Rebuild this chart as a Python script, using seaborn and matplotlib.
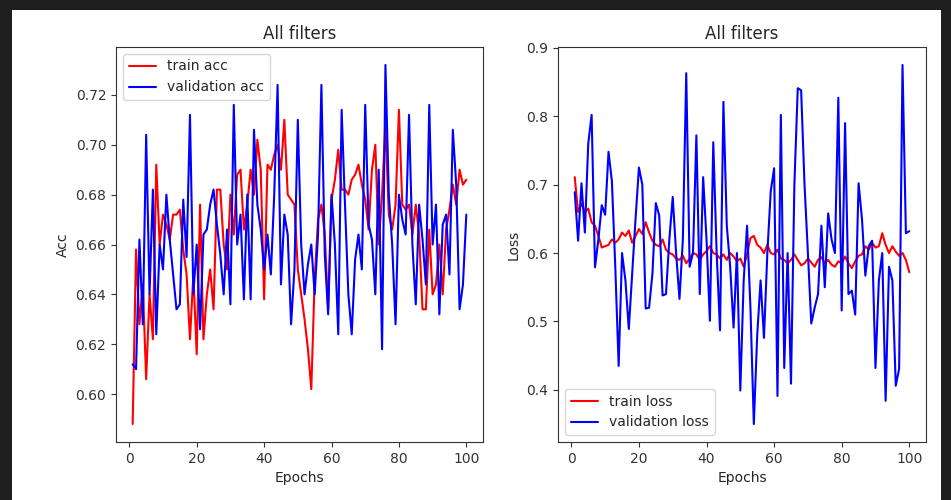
import numpy as np
import pandas as pd
import matplotlib
matplotlib.use("Agg")
import matplotlib.pyplot as plt
from matplotlib.patches import Rectangle
import seaborn as sns

epochs = list(range(1, 101))

train_acc = [
    0.588, 0.658, 0.628, 0.644, 0.606, 0.640, 0.622, 0.692, 0.660, 0.672,
    0.668, 0.662, 0.672, 0.672, 0.674, 0.658, 0.648, 0.622, 0.648, 0.616,
    0.676, 0.622, 0.640, 0.650, 0.634, 0.682, 0.682, 0.660, 0.650, 0.680,
    0.664, 0.688, 0.690, 0.666, 0.676, 0.690, 0.680, 0.702, 0.690, 0.638,
    0.692, 0.690, 0.696, 0.700, 0.690, 0.710, 0.680, 0.678, 0.676, 0.650,
    0.640, 0.630, 0.618, 0.602, 0.646, 0.670, 0.676, 0.664, 0.634, 0.678,
    0.686, 0.698, 0.682, 0.682, 0.680, 0.686, 0.688, 0.692, 0.684, 0.678,
    0.666, 0.690, 0.700, 0.660, 0.680, 0.708, 0.672, 0.666, 0.676, 0.714,
    0.676, 0.674, 0.676, 0.664, 0.676, 0.664, 0.634, 0.634, 0.666, 0.640,
    0.644, 0.660, 0.640, 0.666, 0.674, 0.684, 0.676, 0.690, 0.684, 0.686,
]

val_acc = [
    0.612, 0.610, 0.662, 0.628, 0.704, 0.640, 0.682, 0.624, 0.660, 0.650,
    0.680, 0.662, 0.648, 0.634, 0.636, 0.678, 0.655, 0.712, 0.640, 0.660,
    0.626, 0.664, 0.666, 0.676, 0.682, 0.668, 0.656, 0.640, 0.666, 0.636,
    0.716, 0.660, 0.672, 0.638, 0.680, 0.638, 0.706, 0.676, 0.666, 0.650,
    0.664, 0.648, 0.680, 0.724, 0.644, 0.672, 0.664, 0.628, 0.650, 0.710,
    0.660, 0.640, 0.652, 0.660, 0.640, 0.664, 0.724, 0.656, 0.632, 0.680,
    0.660, 0.624, 0.714, 0.676, 0.640, 0.624, 0.654, 0.664, 0.650, 0.716,
    0.668, 0.662, 0.640, 0.690, 0.618, 0.732, 0.680, 0.660, 0.628, 0.680,
    0.670, 0.664, 0.712, 0.660, 0.636, 0.676, 0.662, 0.644, 0.716, 0.660,
    0.676, 0.632, 0.668, 0.672, 0.648, 0.706, 0.684, 0.634, 0.644, 0.672,
]

train_loss = [
    0.711, 0.660, 0.672, 0.660, 0.665, 0.645, 0.640, 0.625, 0.608, 0.610,
    0.612, 0.620, 0.615, 0.620, 0.630, 0.625, 0.633, 0.615, 0.625, 0.635,
    0.628, 0.645, 0.630, 0.618, 0.612, 0.610, 0.620, 0.605, 0.600, 0.598,
    0.592, 0.590, 0.596, 0.585, 0.592, 0.600, 0.598, 0.590, 0.598, 0.603,
    0.610, 0.600, 0.598, 0.592, 0.598, 0.590, 0.600, 0.595, 0.588, 0.592,
    0.580, 0.598, 0.622, 0.625, 0.612, 0.608, 0.600, 0.612, 0.600, 0.598,
    0.605, 0.592, 0.590, 0.585, 0.590, 0.598, 0.590, 0.582, 0.585, 0.592,
    0.586, 0.580, 0.590, 0.594, 0.585, 0.590, 0.583, 0.580, 0.588, 0.585,
    0.595, 0.585, 0.578, 0.588, 0.596, 0.598, 0.610, 0.605, 0.615, 0.608,
    0.610, 0.629, 0.612, 0.600, 0.610, 0.602, 0.596, 0.600, 0.590, 0.572,
]

val_loss = [
    0.689, 0.618, 0.702, 0.630, 0.760, 0.802, 0.579, 0.620, 0.670, 0.656,
    0.748, 0.705, 0.580, 0.435, 0.600, 0.560, 0.489, 0.570, 0.650, 0.725,
    0.700, 0.519, 0.520, 0.570, 0.673, 0.655, 0.538, 0.540, 0.620, 0.682,
    0.600, 0.533, 0.620, 0.863, 0.580, 0.600, 0.772, 0.540, 0.711, 0.620,
    0.501, 0.762, 0.600, 0.487, 0.821, 0.640, 0.580, 0.491, 0.600, 0.399,
    0.560, 0.640, 0.520, 0.350, 0.480, 0.560, 0.476, 0.600, 0.690, 0.724,
    0.391, 0.802, 0.432, 0.600, 0.409, 0.700, 0.841, 0.838, 0.700, 0.600,
    0.497, 0.520, 0.540, 0.640, 0.550, 0.658, 0.620, 0.600, 0.827, 0.516,
    0.790, 0.540, 0.545, 0.510, 0.702, 0.650, 0.567, 0.610, 0.618, 0.432,
    0.560, 0.600, 0.384, 0.580, 0.560, 0.406, 0.431, 0.875, 0.629, 0.632,
]

acc_ticks = [0.60, 0.62, 0.64, 0.66, 0.68, 0.70, 0.72]
loss_ticks = [0.4, 0.5, 0.6, 0.7, 0.8, 0.9]
epoch_ticks = [0, 20, 40, 60, 80, 100]

history = pd.DataFrame({
    "epoch": epochs,
    "train_acc": train_acc,
    "val_acc": val_acc,
    "train_loss": train_loss,
    "val_loss": val_loss,
})

sns.set_style("ticks")
plt.rcParams.update({
    "font.family": ["DejaVu Sans"],
    "font.size": 10,
    "axes.edgecolor": "#333333",
    "axes.linewidth": 0.8,
    "xtick.color": "#333333",
    "ytick.color": "#333333",
    "text.color": "#262626",
    "axes.labelcolor": "#262626",
})

W, H, DPI = 951, 500, 100
fig = plt.figure(figsize=(W / DPI, H / DPI), dpi=DPI)
fig.patch.set_facecolor("#1e1e1e")
# white notebook output area inside the dark frame
fig.patches.append(Rectangle((12 / W, 0), (941 - 12) / W, 490 / H,
                             transform=fig.transFigure, facecolor="white",
                             edgecolor="none", zorder=-10))

ax1 = fig.add_axes([116 / W, 58 / H, 367 / W, 395 / H])
ax2 = fig.add_axes([558 / W, 58 / H, 368 / W, 395 / H])

sns.lineplot(data=history, x="epoch", y="train_acc", ax=ax1, color="red",
             linewidth=1.5, label="train acc")
sns.lineplot(data=history, x="epoch", y="val_acc", ax=ax1, color="blue",
             linewidth=1.5, label="validation acc")
ax1.set_title("All filters", fontsize=12)
ax1.set_xlabel("Epochs")
ax1.set_ylabel("Acc")
ax1.set_xticks(epoch_ticks)
ax1.set_yticks(acc_ticks)
ax1.set_yticklabels([f"{t:.2f}" for t in acc_ticks])
ax1.legend(loc="upper left")

sns.lineplot(data=history, x="epoch", y="train_loss", ax=ax2, color="red",
             linewidth=1.5, label="train loss")
sns.lineplot(data=history, x="epoch", y="val_loss", ax=ax2, color="blue",
             linewidth=1.5, label="validation loss")
ax2.set_title("All filters", fontsize=12)
ax2.set_xlabel("Epochs")
ax2.set_ylabel("Loss")
ax2.set_xticks(epoch_ticks)
ax2.set_yticks(loss_ticks)
ax2.set_yticklabels([f"{t:.1f}" for t in loss_ticks])
ax2.legend(loc="lower left")

for ax in (ax1, ax2):
    ax.set_facecolor("white")
    ax.tick_params(length=3.5, width=0.8)

fig.savefig("out.png", dpi=DPI, facecolor=fig.get_facecolor())
